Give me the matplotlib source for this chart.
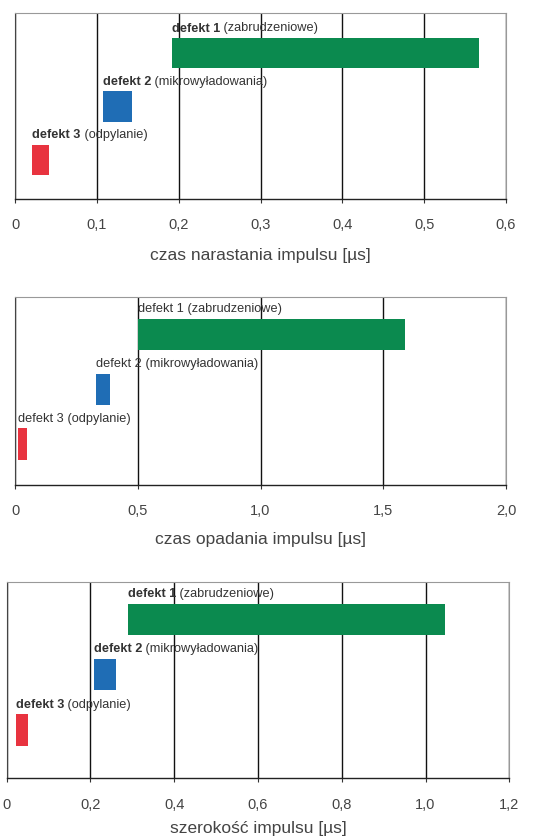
import matplotlib
matplotlib.use("Agg")
import matplotlib.pyplot as plt

plt.rcParams['font.family'] = ['Liberation Sans', 'DejaVu Sans']

defects = ["defekt 1", "defekt 2", "defekt 3"]
kinds = [" (zabrudzeniowe)", " (mikrowyładowania)", " (odpylanie)"]
colors = ["#0b8a4f", "#1f6db5", "#e8333f"]

# panel 1: rise time
rise_start = [0.192, 0.107, 0.021]
rise_end = [0.567, 0.143, 0.042]
rise_ticks = [0, 0.1, 0.2, 0.3, 0.4, 0.5, 0.6]
rise_ticklabels = ["0", "0,1", "0,2", "0,3", "0,4", "0,5", "0,6"]

# panel 2: fall time
fall_start = [0.50, 0.33, 0.014]
fall_end = [1.59, 0.387, 0.048]
fall_ticks = [0, 0.5, 1.0, 1.5, 2.0]
fall_ticklabels = ["0", "0,5", "1,0", "1,5", "2,0"]

# panel 3: pulse width
width_start = [0.290, 0.208, 0.022]
width_end = [1.047, 0.261, 0.050]
width_ticks = [0, 0.2, 0.4, 0.6, 0.8, 1.0, 1.2]
width_ticklabels = ["0", "0,2", "0,4", "0,6", "0,8", "1,0", "1,2"]

xlabels = ["czas narastania impulsu [µs]", "czas opadania impulsu [µs]", "szerokość impulsu [µs]"]

fig = plt.figure(figsize=(5.4, 8.36), dpi=100)

panels = [
    ([15/540, 1-199/836, (506-15)/540, (199-13)/836], rise_start, rise_end, rise_ticks, rise_ticklabels, (-0.73, 2.75), 'bold', 11),
    ([15/540, 1-485/836, (506-15)/540, (485-296.7)/836], fall_start, fall_end, fall_ticks, fall_ticklabels, (-0.75, 2.69), 'normal', 10),
    ([6.7/540, 1-778.3/836, (509.3-6.7)/540, (778.3-581.7)/836], width_start, width_end, width_ticks, width_ticklabels, (-0.88, 2.69), 'bold', 7),
]

txtc = "#333333"
for i, (rect, starts, ends, ticks, tlabels, ylim, weight, lpad) in enumerate(panels):
    ax = fig.add_axes(rect)
    ypos = [2, 1, 0]
    for y, s, e, c, d, k in zip(ypos, starts, ends, colors, defects, kinds):
        ax.barh(y, e - s, left=s, height=0.57, color=c, zorder=3)
        t1 = ax.text(s, y + 0.46, d, fontsize=9.2, fontweight=weight, color=txtc,
                     ha='left', va='center', zorder=4)
        ax.annotate(k, xy=(1, 0), xycoords=t1, ha='left', va='bottom',
                    fontsize=9.2, color=txtc, zorder=4)
    ax.set_xlim(ticks[0], ticks[-1])
    ax.set_ylim(*ylim)
    ax.set_xticks(ticks)
    ax.set_xticklabels(tlabels, fontsize=10.5, color="#444444")
    ax.set_yticks([])
    ax.xaxis.grid(True, color='#111111', lw=1.0, zorder=1)
    ax.tick_params(axis='x', length=3, width=0.8, color='#333333', pad=11)
    for sp in ['top', 'right']:
        ax.spines[sp].set_color('#999999')
        ax.spines[sp].set_linewidth(0.8)
    ax.spines['bottom'].set_color('#222222')
    ax.spines['left'].set_color('#444444')
    ax.spines['bottom'].set_linewidth(1.0)
    ax.spines['left'].set_linewidth(0.8)
    ax.set_xlabel(xlabels[i], fontsize=12.5, color="#444444", labelpad=lpad)

fig.savefig("out.png", dpi=100, facecolor='white')
